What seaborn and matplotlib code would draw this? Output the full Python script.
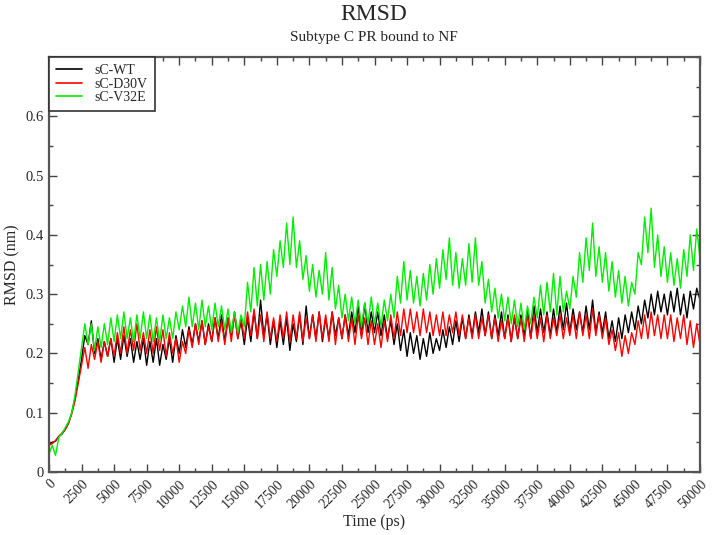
import matplotlib
matplotlib.use("Agg")
import matplotlib.pyplot as plt
from matplotlib.ticker import MultipleLocator
import numpy as np
import pandas as pd
import seaborn as sns

# Time axis (ps), one reading every 250 ps
time_ps = list(range(0, 50001, 250))

rmsd_wt = [
    0.045, 0.05, 0.052, 0.06, 0.064, 0.072, 0.082, 0.10, 0.125, 0.155,
    0.19, 0.23, 0.215, 0.255, 0.20, 0.225, 0.19, 0.22, 0.195, 0.225,
    0.185, 0.225, 0.19, 0.23, 0.195, 0.225, 0.185, 0.22, 0.19, 0.225,
    0.18, 0.22, 0.185, 0.225, 0.18, 0.215, 0.19, 0.225, 0.185, 0.23,
    0.20, 0.24, 0.21, 0.245, 0.215, 0.25, 0.22, 0.255, 0.215, 0.25,
    0.22, 0.26, 0.225, 0.265, 0.22, 0.26, 0.23, 0.27, 0.225, 0.255,
    0.215, 0.26, 0.22, 0.27, 0.225, 0.29, 0.23, 0.265, 0.215, 0.255,
    0.21, 0.255, 0.215, 0.26, 0.205, 0.25, 0.22, 0.265, 0.215, 0.28,
    0.225, 0.265, 0.225, 0.27, 0.22, 0.26, 0.225, 0.27, 0.23, 0.26,
    0.225, 0.265, 0.23, 0.27, 0.235, 0.28, 0.23, 0.285, 0.235, 0.27,
    0.235, 0.27, 0.23, 0.265, 0.225, 0.255, 0.215, 0.25, 0.205, 0.24,
    0.195, 0.235, 0.20, 0.23, 0.19, 0.225, 0.195, 0.235, 0.20, 0.225,
    0.205, 0.24, 0.21, 0.245, 0.215, 0.255, 0.22, 0.26, 0.225, 0.265,
    0.23, 0.27, 0.235, 0.275, 0.23, 0.27, 0.225, 0.265, 0.23, 0.27,
    0.225, 0.265, 0.22, 0.26, 0.225, 0.265, 0.23, 0.275, 0.225, 0.28,
    0.235, 0.275, 0.235, 0.27, 0.23, 0.275, 0.235, 0.28, 0.24, 0.285,
    0.235, 0.275, 0.24, 0.27, 0.235, 0.28, 0.24, 0.29, 0.235, 0.27,
    0.235, 0.27, 0.225, 0.255, 0.22, 0.26, 0.225, 0.265, 0.235, 0.27,
    0.24, 0.28, 0.25, 0.29, 0.26, 0.30, 0.265, 0.305, 0.27, 0.30,
    0.265, 0.305, 0.27, 0.31, 0.265, 0.30, 0.26, 0.305, 0.275, 0.31,
    0.29,
]

rmsd_d30v = [
    0.045, 0.048, 0.053, 0.06, 0.066, 0.072, 0.083, 0.098, 0.12, 0.15,
    0.18, 0.21, 0.175, 0.215, 0.19, 0.22, 0.185, 0.22, 0.195, 0.225,
    0.195, 0.235, 0.20, 0.245, 0.20, 0.24, 0.205, 0.25, 0.205, 0.235,
    0.20, 0.24, 0.20, 0.245, 0.205, 0.24, 0.195, 0.235, 0.20, 0.225,
    0.185, 0.22, 0.20, 0.24, 0.21, 0.25, 0.215, 0.255, 0.215, 0.245,
    0.22, 0.26, 0.22, 0.255, 0.215, 0.26, 0.22, 0.265, 0.225, 0.26,
    0.225, 0.27, 0.23, 0.275, 0.225, 0.265, 0.22, 0.27, 0.225, 0.26,
    0.22, 0.265, 0.225, 0.27, 0.22, 0.265, 0.225, 0.27, 0.22, 0.26,
    0.225, 0.265, 0.22, 0.27, 0.225, 0.265, 0.22, 0.27, 0.215, 0.26,
    0.225, 0.265, 0.22, 0.26, 0.215, 0.265, 0.225, 0.26, 0.215, 0.255,
    0.215, 0.25, 0.21, 0.255, 0.22, 0.265, 0.225, 0.27, 0.23, 0.275,
    0.235, 0.275, 0.235, 0.27, 0.23, 0.275, 0.235, 0.27, 0.23, 0.265,
    0.23, 0.27, 0.23, 0.265, 0.235, 0.27, 0.23, 0.265, 0.225, 0.26,
    0.225, 0.265, 0.225, 0.26, 0.23, 0.265, 0.225, 0.26, 0.22, 0.255,
    0.225, 0.26, 0.22, 0.265, 0.225, 0.26, 0.22, 0.265, 0.225, 0.265,
    0.225, 0.26, 0.22, 0.265, 0.225, 0.26, 0.23, 0.265, 0.225, 0.26,
    0.23, 0.265, 0.225, 0.27, 0.23, 0.265, 0.225, 0.275, 0.23, 0.265,
    0.225, 0.26, 0.215, 0.24, 0.205, 0.235, 0.195, 0.23, 0.20, 0.235,
    0.215, 0.255, 0.225, 0.265, 0.225, 0.27, 0.23, 0.265, 0.225, 0.265,
    0.225, 0.265, 0.22, 0.26, 0.225, 0.265, 0.215, 0.255, 0.21, 0.25,
    0.215,
]

rmsd_v32e = [
    0.03, 0.045, 0.028, 0.058, 0.065, 0.075, 0.085, 0.10, 0.13, 0.17,
    0.21, 0.25, 0.215, 0.25, 0.205, 0.245, 0.21, 0.25, 0.215, 0.26,
    0.22, 0.265, 0.225, 0.27, 0.225, 0.26, 0.22, 0.265, 0.225, 0.27,
    0.225, 0.265, 0.22, 0.26, 0.22, 0.265, 0.225, 0.26, 0.225, 0.27,
    0.24, 0.28, 0.245, 0.295, 0.245, 0.285, 0.24, 0.29, 0.245, 0.28,
    0.24, 0.285, 0.245, 0.28, 0.24, 0.275, 0.235, 0.27, 0.235, 0.265,
    0.245, 0.32, 0.27, 0.345, 0.28, 0.35, 0.29, 0.355, 0.30, 0.375,
    0.33, 0.39, 0.345, 0.42, 0.35, 0.43, 0.345, 0.39, 0.325, 0.365,
    0.305, 0.35, 0.295, 0.34, 0.30, 0.37, 0.29, 0.345, 0.275, 0.315,
    0.26, 0.30, 0.255, 0.295, 0.25, 0.29, 0.245, 0.285, 0.25, 0.295,
    0.25, 0.285, 0.245, 0.29, 0.255, 0.30, 0.26, 0.33, 0.285, 0.355,
    0.29, 0.34, 0.285, 0.33, 0.28, 0.335, 0.29, 0.35, 0.30, 0.36,
    0.31, 0.375, 0.325, 0.395, 0.315, 0.37, 0.31, 0.36, 0.315, 0.385,
    0.32, 0.395, 0.315, 0.355, 0.285, 0.325, 0.27, 0.31, 0.26, 0.30,
    0.255, 0.295, 0.25, 0.29, 0.245, 0.285, 0.24, 0.28, 0.25, 0.295,
    0.26, 0.315, 0.265, 0.32, 0.27, 0.335, 0.265, 0.33, 0.27, 0.305,
    0.275, 0.33, 0.295, 0.37, 0.32, 0.395, 0.34, 0.42, 0.33, 0.38,
    0.32, 0.37, 0.305, 0.355, 0.295, 0.34, 0.285, 0.33, 0.28, 0.32,
    0.30, 0.37, 0.35, 0.43, 0.37, 0.445, 0.345, 0.40, 0.33, 0.38,
    0.32, 0.37, 0.315, 0.36, 0.31, 0.375, 0.33, 0.40, 0.34, 0.41,
    0.36,
]

series_names = ["sC-WT", "sC-D30V", "sC-V32E"]
x_ticks = list(range(0, 50001, 2500))
y_ticks = [0, 0.1, 0.2, 0.3, 0.4, 0.5, 0.6]

df = pd.concat([
    pd.DataFrame({"Time (ps)": time_ps, "RMSD (nm)": vals, "system": name})
    for name, vals in zip(series_names, [rmsd_wt, rmsd_d30v, rmsd_v32e])
], ignore_index=True)

sns.set_style("ticks")
plt.rcParams["font.family"] = ["Liberation Serif", "DejaVu Serif"]

fig = plt.figure(figsize=(7.2, 5.35), dpi=100)
ax = fig.add_axes([49 / 720, 63 / 535, 651 / 720, 415 / 535])

palette = {"sC-WT": "#000000", "sC-D30V": "#ff0000", "sC-V32E": "#00ee00"}
sns.lineplot(data=df, x="Time (ps)", y="RMSD (nm)", hue="system",
             palette=palette, linewidth=1.0, ax=ax, sort=False,
             estimator=None)

ax.set_xlim(0, 50000)
ax.set_ylim(0, 0.7)
ax.set_xticks(x_ticks)
ax.set_xticklabels([str(t) for t in x_ticks], rotation=45, ha="right",
                   rotation_mode="anchor", fontsize=10)
ax.set_yticks(y_ticks)
ax.set_yticklabels(["0"] + [f"{v:.1f}" for v in y_ticks[1:]], fontsize=10.5)
ax.xaxis.set_minor_locator(MultipleLocator(1250))
ax.yaxis.set_minor_locator(MultipleLocator(0.05))
ax.tick_params(which="both", direction="in", top=True, right=True,
               color="#444444", width=1.0)
ax.tick_params(which="major", length=6)
ax.tick_params(which="minor", length=3)
ax.tick_params(axis="x", which="major", pad=4)
for s in ax.spines.values():
    s.set_color("#555555")
    s.set_linewidth(1.6)

ax.set_xlabel("Time (ps)", fontsize=11.5, labelpad=2)
ax.set_ylabel("RMSD (nm)", fontsize=11.5, labelpad=4)

fig.text(374 / 720, 1 - 15 / 535, "RMSD", ha="center", va="center", fontsize=17)
fig.text(374 / 720, 1 - 38 / 535, "Subtype C PR bound to NF", ha="center",
         va="center", fontsize=11)

leg = ax.legend(loc="upper left", fontsize=10, frameon=True, fancybox=False,
                borderaxespad=0, handlelength=1.9, labelspacing=0.05,
                borderpad=0.5, handletextpad=0.9)
leg.set_title(None)
leg.get_frame().set_edgecolor("#333333")
leg.get_frame().set_linewidth(1.2)
leg.get_frame().set_alpha(1)
for line in leg.get_lines():
    line.set_linewidth(1.2)

fig.savefig("out.png", dpi=100)
